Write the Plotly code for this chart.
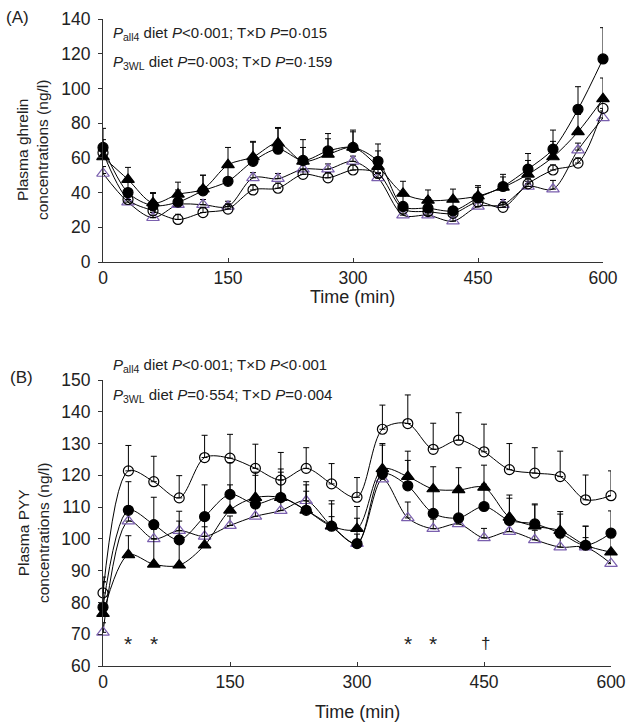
import plotly.graph_objects as go

time = [0, 30, 60, 90, 120, 150, 180, 210, 240, 270, 300, 330, 360, 390, 420, 450, 480, 510, 540, 570, 600]

# Panel A: plasma ghrelin (ng/l)
ghr_fc = [66, 40, 32.5, 34.5, 41, 46.5, 58, 65, 58.5, 64, 66, 58, 32, 31, 29.5, 37, 43.5, 53.5, 65, 88, 117]
ghr_fc_err = [11, 7, 7, 7, 9, 10, 11, 12, 12, 10, 10, 10, 6, 6, 6, 6, 7, 9, 11, 13, 18]
ghr_ft = [60.5, 47.5, 34, 39, 42, 56, 60.5, 68.5, 58, 62, 66, 55, 39.5, 35.5, 36, 38, 43, 50.5, 60.5, 75, 94]
ghr_ft_err = [10, 7, 6, 7, 8, 10, 9, 9, 8, 9, 9, 9, 7, 6, 6, 6, 6, 8, 9, 10, 12]
ghr_oc = [63, 36, 29.5, 24.5, 28.5, 30.5, 41.5, 42.5, 50.5, 48.5, 53, 51, 30.5, 29, 28, 34.5, 31.5, 45, 53, 57, 88.5]
ghr_oc_err = [4, 3, 3, 3, 3, 3, 3, 3, 3, 3, 3, 3, 3, 3, 3, 3, 3, 3, 3, 3, 4]
ghr_ot = [51, 34.5, 25.5, 33, 33, 32, 48.5, 48, 53.5, 53.5, 58, 48.5, 27, 27, 23.5, 32, 33, 43.5, 42, 64.5, 83]
ghr_ot_err = [4, 3, 3, 3, 3, 3, 3, 3, 3, 3, 3, 3, 3, 3, 3, 3, 3, 3, 5, 4, 4]

# Panel B: plasma PYY (ng/l)
pyy_fc = [78.5, 109, 104.5, 99.7, 107, 114, 111, 113, 109, 104, 98.5, 120.5, 116.7, 108, 106.6, 110.2, 105.8, 104.7, 101.8, 98, 101.8]
pyy_fc_err = [8, 9, 8.6, 9, 10, 10, 9, 9, 9, 8, 8, 9, 8, 8, 8, 7, 7, 6, 6, 6, 7]
pyy_ft = [76.5, 95, 92, 91.7, 98, 109, 113, 113, 109, 104, 103.2, 122, 119.6, 115.7, 115.4, 116.2, 106.8, 104, 102.6, 98, 95.8]
pyy_ft_err = [10, 6, 8, 8, 8, 8, 8, 8, 8, 7, 7, 8, 8, 7, 7, 7, 7, 7, 6, 6, 6]
pyy_oc = [83, 121.4, 118, 112.9, 125.6, 125.4, 122.2, 118.5, 122.2, 117.3, 113.1, 134.5, 136.3, 128.2, 131.1, 127.4, 121.8, 120.7, 119.6, 112.3, 113.6]
pyy_oc_err = [5, 8, 8, 7, 7, 7.5, 7.6, 8.7, 6.5, 6.4, 6.2, 7.6, 9, 8.2, 8.6, 8.7, 8.2, 8, 8, 7.8, 7.8]
pyy_ot = [70.6, 105.6, 100, 102.6, 100.8, 104.2, 107.1, 108.9, 112, 104, 98.5, 118.8, 106.6, 103.2, 104.7, 100.3, 102.3, 99.7, 97.4, 97.4, 92.2]
pyy_ot_err = [3, 3, 3, 3, 3, 3, 3, 3, 3, 3, 3, 3, 5, 3, 3, 3, 3, 3, 3, 3, 3]

sig_times = [30, 60, 360, 390, 452]
sig_marks = ["*", "*", "*", "*", "†"]
sig_level = 67

FONT = "Liberation Sans, Arial, sans-serif"
PURPLE = "#7a5fae"
TXT = "#222222"

fig = go.Figure()

def add_series(y, err, symbol, color, xa, ya):
    fig.add_trace(go.Scatter(
        x=time, y=y, mode="lines+markers", xaxis=xa, yaxis=ya,
        line=dict(color="black", width=1, shape="spline", smoothing=0.9),
        marker=dict(symbol=symbol, size=10 if "circle" in symbol else 11,
                    color=color, line=dict(color=color, width=1.2)),
        error_y=dict(type="data", symmetric=False, array=err,
                     arrayminus=[0] * len(err), color="black",
                     thickness=1, width=3),
        cliponaxis=False, showlegend=False, hoverinfo="x+y"))

for (y, e, sym, col) in [
        (ghr_ot, ghr_ot_err, "triangle-up-open", PURPLE),
        (ghr_oc, ghr_oc_err, "circle-open", "black"),
        (ghr_ft, ghr_ft_err, "triangle-up", "black"),
        (ghr_fc, ghr_fc_err, "circle", "black")]:
    add_series(y, e, sym, col, "x", "y")

for (y, e, sym, col) in [
        (pyy_ot, pyy_ot_err, "triangle-up-open", PURPLE),
        (pyy_oc, pyy_oc_err, "circle-open", "black"),
        (pyy_ft, pyy_ft_err, "triangle-up", "black"),
        (pyy_fc, pyy_fc_err, "circle", "black")]:
    add_series(y, e, sym, col, "x2", "y2")

W, H = 633, 725
def px(x):
    return x / W
def py(y):
    return 1 - y / H

axis_common = dict(showgrid=False, zeroline=False, showline=True,
                   linecolor="#333333", linewidth=1.2,
                   tickfont=dict(family=FONT, size=17.5, color=TXT),
                   tickcolor="#333333", ticklen=4, automargin=False)

fig.update_layout(
    width=W, height=H,
    margin=dict(l=0, r=0, t=0, b=0),
    paper_bgcolor="white", plot_bgcolor="white",
    font=dict(family=FONT, size=17, color=TXT),
    xaxis=dict(domain=[px(103), px(603)], range=[0, 600], tickvals=[0, 150, 300, 450, 600],
               ticks="inside", anchor="y", **axis_common),
    yaxis=dict(domain=[py(262), py(19)], range=[0, 140], tickvals=list(range(0, 141, 20)),
               ticks="outside", anchor="x", ticklabelstandoff=4, **axis_common),
    xaxis2=dict(domain=[px(103), px(611)], range=[0, 600], tickvals=[0, 150, 300, 450, 600],
                ticks="inside", anchor="y2", **axis_common),
    yaxis2=dict(domain=[py(666), py(380)], range=[60, 150], tickvals=list(range(60, 151, 10)),
                ticks="outside", anchor="x2", ticklabelstandoff=4, **axis_common),
)

ann = []
def txt(x, y, s, size=18, xanchor="left", angle=0):
    ann.append(dict(x=px(x), y=py(y), xref="paper", yref="paper", text=s,
                    showarrow=False, xanchor=xanchor, yanchor="middle",
                    textangle=angle, font=dict(family=FONT, size=size, color=TXT)))

txt(4, 18, "(A)", 17)
txt(8, 378, "(B)", 17)
txt(111, 33, "<i>P</i><sub>all4</sub> diet <i>P</i><0·001; T×D <i>P</i>=0·015", 15)
txt(111, 62, "<i>P</i><sub>3WL</sub> diet <i>P</i>=0·003; T×D <i>P</i>=0·159", 15)
txt(111, 365, "<i>P</i><sub>all4</sub> diet <i>P</i><0·001; T×D <i>P</i><0·001", 15)
txt(111, 395, "<i>P</i><sub>3WL</sub> diet <i>P</i>=0·554; T×D <i>P</i>=0·004", 15)
txt(353, 297, "Time (min)", 18, "center")
txt(357, 712, "Time (min)", 18, "center")
txt(33, 150, "Plasma ghrelin<br>concentrations (ng/l)", 15.5, "center", -90)
txt(33, 533, "Plasma PYY<br>concentrations (ng/l)", 15.5, "center", -90)
fig.update_layout(annotations=ann)

for t, m in zip(sig_times, sig_marks):
    fig.add_annotation(x=t, y=sig_level, xref="x2", yref="y2", text=m, showarrow=False,
                       font=dict(family=FONT, size=21 if m == "*" else 17, color=TXT))

fig.write_html("out.html", config={"displayModeBar": False},
               post_script="document.body.style.margin='0';document.body.style.overflow='hidden';")
